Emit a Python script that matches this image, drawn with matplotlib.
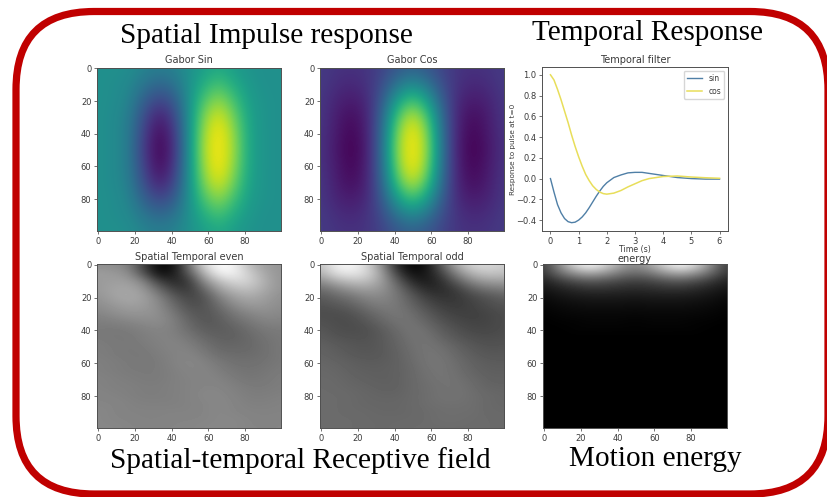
import matplotlib
matplotlib.use("Agg")
import matplotlib.pyplot as plt
from matplotlib.patches import FancyBboxPatch
import numpy as np

W, H = 827, 497

# Heat-map grids: 13 columns across x = 0..99
gabor_sin = [
    [.50, .50, .49, .45, .42, .44, .50, .56, .60, .55, .51, .50, .50],
    [.50, .49, .47, .39, .33, .37, .50, .63, .71, .61, .53, .50, .50],
    [.50, .49, .45, .31, .20, .27, .50, .73, .84, .70, .55, .51, .50],
    [.50, .48, .43, .24, .08, .19, .50, .82, .95, .78, .57, .51, .50],
    [.50, .48, .42, .20, .02, .14, .50, .87, 1.0, .83, .58, .51, .50],
    [.50, .48, .42, .18, .00, .12, .50, .89, 1.0, .85, .58, .51, .50],
    [.50, .48, .42, .20, .02, .14, .50, .87, 1.0, .83, .58, .51, .50],
    [.50, .48, .43, .24, .08, .19, .50, .82, .95, .78, .57, .51, .50],
    [.50, .49, .45, .31, .20, .27, .50, .73, .84, .70, .55, .51, .50],
    [.50, .49, .47, .39, .33, .37, .50, .63, .71, .61, .53, .50, .50],
    [.50, .50, .49, .45, .42, .44, .50, .56, .60, .55, .51, .50, .50],
]
gabor_cos = [
    [.17, .15, .14, .15, .20, .27, .31, .27, .20, .15, .14, .15, .17],
    [.17, .13, .11, .14, .23, .39, .48, .39, .23, .14, .11, .13, .17],
    [.16, .10, .07, .11, .28, .56, .72, .56, .28, .11, .07, .10, .16],
    [.16, .08, .03, .09, .32, .72, .92, .72, .32, .09, .03, .08, .16],
    [.15, .07, .01, .08, .34, .81, 1.0, .81, .34, .08, .01, .07, .15],
    [.15, .06, .00, .07, .35, .84, 1.0, .84, .35, .07, .00, .06, .15],
    [.15, .07, .01, .08, .34, .81, 1.0, .81, .34, .08, .01, .07, .15],
    [.16, .08, .03, .09, .32, .72, .92, .72, .32, .09, .03, .08, .16],
    [.16, .10, .07, .11, .28, .56, .72, .56, .28, .11, .07, .10, .16],
    [.17, .13, .11, .14, .23, .39, .48, .39, .23, .14, .11, .13, .17],
    [.17, .15, .14, .15, .20, .27, .31, .27, .20, .15, .14, .15, .17],
]
# Rows every 5 units of y
st_even = [
    [.55, .55, .50, .25, .02, .05, .45, .85, 1.0, .95, .72, .62, .58],
    [.62, .60, .56, .32, .05, .10, .35, .70, .95, .95, .80, .65, .58],
    [.60, .62, .62, .52, .25, .15, .22, .55, .75, .85, .82, .68, .58],
    [.60, .64, .65, .60, .42, .25, .22, .40, .62, .72, .75, .66, .58],
    [.58, .63, .66, .63, .52, .36, .27, .32, .50, .62, .66, .62, .56],
    [.55, .59, .62, .61, .55, .42, .31, .32, .43, .54, .60, .59, .55],
    [.52, .55, .58, .58, .56, .47, .36, .33, .38, .47, .52, .55, .53],
    [.49, .50, .52, .54, .55, .50, .40, .34, .36, .42, .47, .51, .51],
    [.48, .47, .48, .50, .52, .50, .43, .37, .36, .38, .43, .47, .48],
    [.48, .47, .47, .49, .51, .51, .47, .41, .38, .38, .41, .45, .47],
    [.49, .48, .47, .48, .50, .52, .50, .45, .40, .40, .41, .44, .47],
    [.49, .48, .47, .47, .49, .51, .52, .48, .43, .42, .42, .44, .47],
    [.50, .49, .48, .47, .48, .51, .53, .51, .47, .44, .44, .45, .47],
    [.50, .49, .48, .48, .48, .50, .52, .52, .49, .46, .45, .46, .48],
    [.51, .50, .49, .48, .48, .50, .51, .52, .51, .48, .46, .47, .49],
    [.51, .50, .50, .49, .49, .50, .51, .52, .52, .50, .48, .48, .49],
    [.52, .51, .50, .49, .49, .50, .51, .53, .53, .51, .49, .49, .50],
    [.52, .52, .51, .50, .50, .50, .51, .52, .53, .52, .50, .50, .51],
    [.53, .52, .51, .51, .51, .51, .51, .52, .53, .52, .51, .51, .51],
    [.53, .52, .52, .51, .51, .52, .52, .52, .53, .53, .52, .51, .52],
    [.53, .53, .52, .52, .52, .52, .52, .53, .53, .53, .52, .52, .52],
]
st_odd = [
    [.75, .95, .98, .85, .55, .15, .00, .08, .40, .70, .85, .85, .80],
    [.70, .88, .92, .85, .62, .25, .05, .10, .28, .55, .72, .78, .75],
    [.55, .68, .75, .75, .62, .38, .15, .10, .20, .38, .55, .62, .62],
    [.42, .50, .58, .62, .58, .45, .27, .16, .17, .25, .38, .45, .48],
    [.35, .40, .45, .52, .53, .47, .35, .24, .20, .22, .28, .33, .37],
    [.32, .34, .38, .45, .49, .47, .39, .30, .24, .23, .26, .30, .33],
    [.30, .30, .32, .38, .44, .47, .43, .35, .28, .25, .25, .27, .30],
    [.32, .30, .30, .34, .40, .45, .45, .39, .32, .28, .26, .27, .30],
    [.34, .31, .30, .31, .36, .42, .46, .43, .36, .31, .28, .28, .30],
    [.36, .33, .32, .32, .35, .40, .45, .45, .39, .34, .31, .30, .31],
    [.38, .36, .34, .33, .35, .39, .44, .46, .43, .38, .34, .32, .33],
    [.39, .37, .35, .34, .35, .38, .43, .46, .45, .40, .36, .34, .34],
    [.40, .39, .37, .36, .36, .38, .42, .46, .46, .42, .38, .36, .36],
    [.41, .40, .38, .37, .37, .38, .41, .45, .46, .43, .39, .37, .37],
    [.41, .41, .39, .38, .37, .38, .41, .44, .46, .44, .41, .38, .38],
    [.42, .41, .40, .39, .38, .38, .41, .43, .45, .45, .42, .39, .39],
    [.42, .42, .41, .40, .39, .39, .41, .43, .45, .45, .43, .41, .40],
    [.42, .42, .41, .40, .40, .40, .41, .43, .44, .44, .43, .41, .40],
    [.42, .42, .41, .41, .40, .40, .41, .42, .43, .43, .43, .41, .41],
    [.42, .42, .42, .41, .41, .41, .41, .42, .43, .43, .42, .42, .41],
    [.42, .42, .42, .41, .41, .41, .42, .42, .42, .42, .42, .42, .41],
]
energy = [
    [.25, .55, .85, 1.0, .85, .65, .55, .65, .85, 1.0, .85, .55, .25],
    [.22, .42, .58, .66, .60, .48, .42, .47, .60, .66, .58, .42, .22],
    [.13, .22, .30, .34, .32, .28, .25, .27, .32, .34, .30, .22, .13],
    [.08, .12, .16, .19, .19, .17, .16, .17, .19, .19, .16, .12, .08],
    [.04, .07, .09, .10, .10, .10, .09, .10, .10, .10, .09, .07, .04],
    [.02, .04, .05, .06, .06, .06, .05, .06, .06, .06, .05, .04, .02],
    [.01, .02, .03, .03, .03, .03, .03, .03, .03, .03, .03, .02, .01],
    [.00, .01, .01, .02, .02, .02, .01, .02, .02, .02, .01, .01, .00],
    [.00, .00, .01, .01, .01, .01, .01, .01, .01, .01, .01, .00, .00],
    [.00, .00, .00, .00, .00, .00, .00, .00, .00, .00, .00, .00, .00],
    [.00, .00, .00, .00, .00, .00, .00, .00, .00, .00, .00, .00, .00],
    [.00, .00, .00, .00, .00, .00, .00, .00, .00, .00, .00, .00, .00],
    [.00, .00, .00, .00, .00, .00, .00, .00, .00, .00, .00, .00, .00],
    [.00, .00, .00, .00, .00, .00, .00, .00, .00, .00, .00, .00, .00],
    [.00, .00, .00, .00, .00, .00, .00, .00, .00, .00, .00, .00, .00],
    [.00, .00, .00, .00, .00, .00, .00, .00, .00, .00, .00, .00, .00],
    [.00, .00, .00, .00, .00, .00, .00, .00, .00, .00, .00, .00, .00],
    [.00, .00, .00, .00, .00, .00, .00, .00, .00, .00, .00, .00, .00],
    [.00, .00, .00, .00, .00, .00, .00, .00, .00, .00, .00, .00, .00],
    [.00, .00, .00, .00, .00, .00, .00, .00, .00, .00, .00, .00, .00],
    [.00, .00, .00, .00, .00, .00, .00, .00, .00, .00, .00, .00, .00],
]

# Temporal filter curves
t = [0, .125, .25, .375, .5, .625, .75, .875, 1, 1.125, 1.25, 1.375, 1.5, 1.625, 1.75, 1.875, 2,
     2.25, 2.5, 2.75, 3, 3.25, 3.5, 4, 4.5, 5, 5.5, 6]
resp_sin = [0, -.13, -.25, -.33, -.385, -.415, -.425, -.42, -.40, -.37, -.33, -.28, -.225, -.17,
            -.12, -.075, -.04, .01, .035, .055, .06, .06, .05, .03, .01, 0, -.005, -.005]
resp_cos = [1.0, .95, .86, .76, .65, .54, .42, .31, .21, .12, .04, -.02, -.07, -.105,
            -.13, -.145, -.15, -.14, -.115, -.08, -.05, -.02, 0, .02, .025, .015, .008, .003]

img_ticks = [0, 20, 40, 60, 80]
txt = "#3a3a3a"
plt.rcParams.update({"font.family": "DejaVu Sans", "font.size": 6,
                     "axes.linewidth": 0.7, "axes.edgecolor": "#505050",
                     "xtick.color": txt, "ytick.color": txt,
                     "xtick.major.size": 2, "ytick.major.size": 2,
                     "xtick.major.width": 0.5, "ytick.major.width": 0.5,
                     "xtick.major.pad": 2, "ytick.major.pad": 2,
                     "text.color": txt, "axes.labelcolor": txt})

fig = plt.figure(figsize=(W / 100, H / 100), dpi=100, facecolor="white")


def px_axes(x0, y0, x1, y1):
    return fig.add_axes([x0 / W, 1 - y1 / H, (x1 - x0) / W, (y1 - y0) / H])


def heat(box, title, vals, cmap, pad=3):
    ax = px_axes(*box)
    arr = np.array(vals)
    nrows, ncols = arr.shape
    dx = 99 / (ncols - 1)
    dy = 99 / (nrows - 1)
    ax.imshow(arr, cmap=cmap, vmin=0, vmax=1, interpolation="bicubic", aspect="auto",
              extent=(-dx / 2, 99 + dx / 2, 99 + dy / 2, -dy / 2))
    ax.set_xlim(-0.5, 99.5)
    ax.set_ylim(99.5, -0.5)
    ax.set_xticks(img_ticks)
    ax.set_yticks(img_ticks)
    ax.set_title(title, fontsize=7, pad=pad, color=txt)
    return ax


heat((97, 67.5, 281, 231), "Gabor Sin", gabor_sin, "viridis")
heat((320, 67.5, 504, 231), "Gabor Cos", gabor_cos, "viridis")
heat((97, 264, 281, 428), "Spatial Temporal even", st_even, "gray")
heat((320, 264, 504, 428), "Spatial Temporal odd", st_odd, "gray")
heat((543, 264, 727, 428), "energy", energy, "gray", pad=1.2)

ax = px_axes(542, 67, 728, 231)
ax.plot(t, resp_sin, color="#4f7fa6", lw=1.0, label="sin")
ax.plot(t, resp_cos, color="#e8de5a", lw=1.1, label="cos")
ax.set_xlim(-0.3, 6.3)
ax.set_ylim(-0.505, 1.075)
ax.set_xticks([0, 1, 2, 3, 4, 5, 6])
ax.set_yticks([-0.4, -0.2, 0, 0.2, 0.4, 0.6, 0.8, 1.0])
ax.set_title("Temporal filter", fontsize=7, pad=3, color=txt)
ax.set_xlabel("Time (s)", fontsize=5.6, labelpad=-0.5)
ax.set_ylabel("Response to pulse at t=0", fontsize=5.2, labelpad=0.5)
ax.legend(loc="upper right", fontsize=5.5, frameon=True, edgecolor="#cccccc", framealpha=0.8)

# Slide overlay: frame and captions
ov = fig.add_axes([0, 0, 1, 1], zorder=10)
ov.set_xlim(0, W)
ov.set_ylim(H, 0)
ov.axis("off")
ov.patch.set_alpha(0)
ov.add_patch(FancyBboxPatch((16, 11.5), 812, 482.5,
                            boxstyle="round,pad=0,rounding_size=78",
                            fc="none", ec="#C00000", lw=5.2))
serif = dict(family="Liberation Serif", color="black", ha="center", va="center", fontsize=21.1)
ov.text(266, 36, "Spatial Impulse response", **serif)
ov.text(647, 33.5, "Temporal Response", **serif)
ov.text(300, 460.5, "Spatial-temporal Receptive field", **serif)
ov.text(655, 458.5, "Motion energy", **serif)

fig.savefig("out.png", dpi=100, facecolor="white")
